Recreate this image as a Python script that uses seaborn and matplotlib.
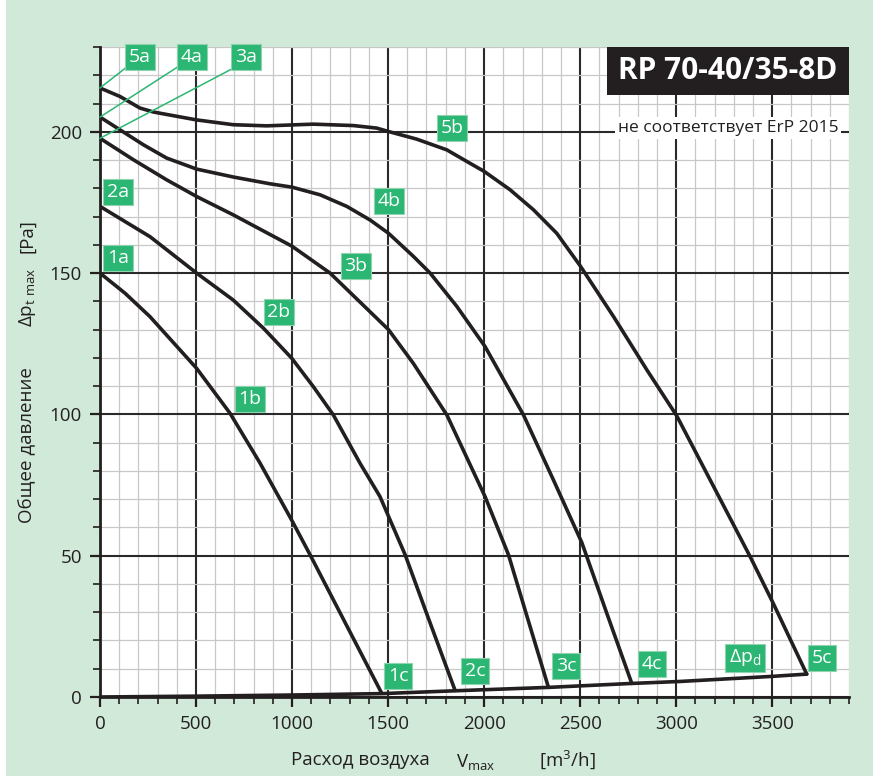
import numpy as np
import pandas as pd
import matplotlib.pyplot as plt
import matplotlib.patches as mpatches
import seaborn as sns

# fan curves: airflow [m3/h] and total pressure [Pa]
curve1_x = [0, 130, 260, 503, 677, 833, 998, 1094, 1285, 1467]
curve1_p = [150, 142.9, 134.6, 116.3, 100.4, 82.8, 62.6, 50.3, 25.2, 1.3]

curve2_x = [0, 260, 503, 693, 851, 998, 1111, 1215, 1354, 1458, 1589, 1707, 1849]
curve2_p = [173.6, 162.9, 150, 140.5, 130.5, 119.9, 109.8, 99.8, 82.7, 70.9, 50.3, 28.4, 2.3]

curve3_x = [0, 174, 347, 503, 694, 1000, 1198, 1502, 1632, 1806, 2005, 2127, 2224, 2335]
curve3_p = [197.7, 190.1, 183, 177.1, 170.6, 159.5, 150, 130, 118, 99.8, 70.9, 50.3, 28.4, 3.4]

curve4_x = [0, 104, 226, 347, 503, 694, 885, 1000, 1146, 1285, 1406, 1502, 1632, 1719,
            1858, 2005, 2205, 2361, 2509, 2639, 2769]
curve4_p = [205.2, 200.7, 195.4, 190.7, 186.8, 184, 181.6, 180.4, 177.7, 173.6, 168.8, 164.1,
            155.9, 150, 138.2, 124, 99.8, 76.8, 54.6, 29.6, 4.8]

curve5_x = [0, 104, 208, 278, 382, 503, 694, 868, 1111, 1319, 1441, 1502, 1649, 1806, 1910,
            2000, 2135, 2257, 2378, 2500, 2674, 2847, 3003, 3385, 3503, 3680]
curve5_p = [215.5, 212.5, 208.4, 207, 205.7, 204.2, 202.5, 202.1, 202.7, 202.2, 201.3, 200.1,
            197.4, 193.6, 189.5, 186, 179.5, 172.4, 164.1, 152.6, 134.6, 115.8, 99.5, 49.7,
            33.5, 8.1]

# dynamic pressure line
dyn_x = [0, 500, 1000, 1467, 1849, 2335, 2769, 3021, 3500, 3680]
dyn_p = [0, 0.3, 0.7, 1.2, 2.2, 3.4, 4.8, 5.5, 7.3, 8.1]

# label boxes: text, x, y
label_text = ['5a', '4a', '3a', '2a', '1a', '1b', '2b', '3b', '4b', '5b',
              '1c', '2c', '3c', '4c', r'Δp$_{\rm d}$', '5c']
label_x = [208, 479, 760, 94, 94, 781, 932, 1333, 1505, 1833,
           1552, 1953, 2427, 2875, 3360, 3760]
label_y = [226.5, 226.5, 226.5, 178.8, 155.4, 105.5, 136.3, 152.6, 175.6, 201.4,
           7.4, 9.2, 10.9, 11.7, 13.8, 13.8]

# leader lines from top labels to curve starts
leader_start = [(141, 223), (406, 223), (708, 223)]
leader_end = [(0, 215.5), (0, 205.2), (0, 197.7)]

title = 'RP 70-40/35-8D'
subtitle = 'не соответствует ErP 2015'

BG = '#d0e9d8'
GREEN = '#2bb673'
INK = '#231f20'

sns.set_theme(style='white')
plt.rcParams['font.family'] = ['Open Sans', 'DejaVu Sans']
plt.rcParams['mathtext.fontset'] = 'custom'
plt.rcParams['mathtext.rm'] = 'Open Sans'
plt.rcParams['mathtext.it'] = 'Open Sans'

W, H = 873, 776
fig = plt.figure(figsize=(W / 100, H / 100), dpi=100, facecolor=BG)
fig.patches.append(mpatches.Rectangle((0, 0), 6 / W, 1, transform=fig.transFigure,
                                      facecolor='white', edgecolor='none', zorder=0))
ax = fig.add_axes([100 / W, 1 - 697 / H, 749 / W, 650 / H])
ax.set_facecolor('white')

ax.set_xlim(0, 3900)
ax.set_ylim(0, 230)
ax.set_xticks(np.arange(0, 3501, 500))
ax.set_xticks(np.arange(0, 3901, 100), minor=True)
ax.set_yticks(np.arange(0, 201, 50))
ax.set_yticks(np.arange(0, 231, 10), minor=True)
ax.grid(which='minor', color='#c8c8c8', lw=0.9)
ax.grid(which='major', color='#2a2a2a', lw=1.5)
ax.set_axisbelow(True)
for s in ['top', 'right']:
    ax.spines[s].set_visible(False)
for s in ['left', 'bottom']:
    ax.spines[s].set_color(INK)
    ax.spines[s].set_linewidth(2)
ax.tick_params(which='major', direction='out', length=7, width=1.6, color=INK,
               labelsize=13.5, labelcolor=INK, pad=6)
ax.tick_params(which='minor', direction='out', length=5, width=1.2, color=INK)
ax.tick_params(axis='x', which='both', bottom=True)
ax.tick_params(axis='y', which='both', left=True)
ax.set_xlabel('')
ax.set_ylabel('')

curves = [(curve1_x, curve1_p), (curve2_x, curve2_p), (curve3_x, curve3_p),
          (curve4_x, curve4_p), (curve5_x, curve5_p), (dyn_x, dyn_p)]
for cx, cp in curves:
    sns.lineplot(x=cx, y=cp, sort=False, estimator=None, color=INK, lw=2.6, ax=ax,
                 zorder=3, solid_joinstyle='round', solid_capstyle='round')

for (x0, y0), (x1, y1) in zip(leader_start, leader_end):
    ax.plot([x0, x1], [y0, y1], color=GREEN, lw=1.1, zorder=4, clip_on=False)

for t, x, y in zip(label_text, label_x, label_y):
    ax.text(x, y, t, ha='center', va='center', color='white', fontsize=14, zorder=6,
            clip_on=False,
            bbox=dict(boxstyle='square,pad=0.2', facecolor=GREEN, edgecolor='#8fd3b0', lw=0.8))

# title block
x0 = (607 - 100) / 749
y0 = (697 - 95) / 650
ax.add_patch(mpatches.Rectangle((x0, y0), 1 - x0, 1 - y0, transform=ax.transAxes,
                                facecolor='#231f20', edgecolor='none', zorder=7))
ax.text((x0 + 1) / 2, (y0 + 1) / 2, title, transform=ax.transAxes, ha='center', va='center',
        color='white', fontsize=21.5, fontweight='bold', zorder=8)
ax.text((728 - 100) / 749, (697 - 128) / 650, subtitle, transform=ax.transAxes,
        ha='center', va='center', color=INK, fontsize=12.5, zorder=8,
        bbox=dict(boxstyle='square,pad=0.15', facecolor='white', edgecolor='none'))

# axis titles
fig.text(27 / W, 1 - 445 / H, 'Общее давление', rotation=90, ha='center', va='center',
         fontsize=13.5, color=INK)
fig.text(27 / W, 1 - 297 / H, r'Δp$_{\rm t\ max}$', rotation=90, ha='center', va='center',
         fontsize=13.5, color=INK)
fig.text(27 / W, 1 - 236 / H, '[Pa]', rotation=90, ha='center', va='center',
         fontsize=13.5, color=INK)
fig.text(360 / W, 1 - 760 / H, 'Расход воздуха', ha='center', va='center',
         fontsize=13.5, color=INK)
fig.text(476 / W, 1 - 762 / H, r'V$_{\rm max}$', ha='center', va='center',
         fontsize=13.5, color=INK)
fig.text(567 / W, 1 - 760 / H, r'[m$^{3}$/h]', ha='center', va='center',
         fontsize=13.5, color=INK)

fig.savefig('out.png', dpi=100, facecolor=BG)
